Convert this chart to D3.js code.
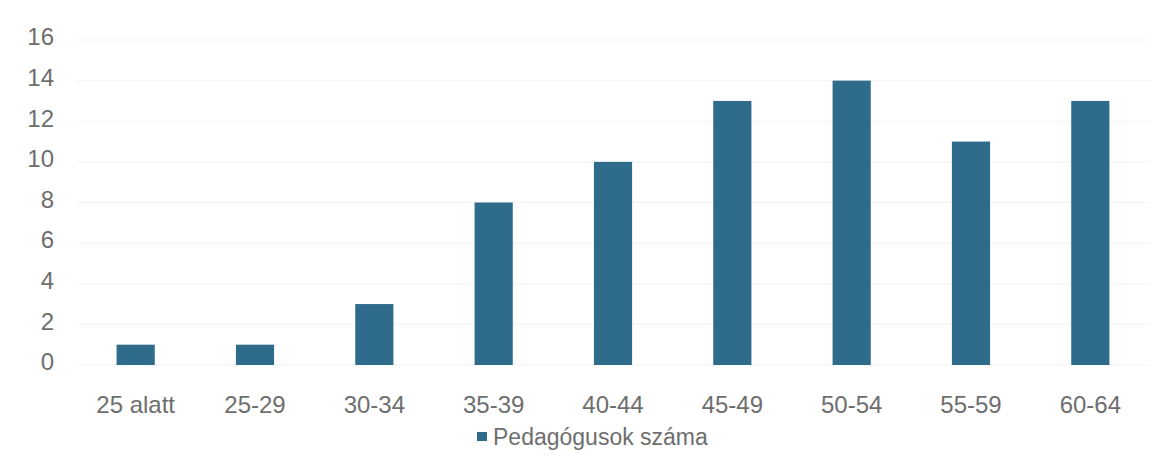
<!DOCTYPE html>
<html>
<head>
<meta charset="utf-8">
<script src="https://cdn.jsdelivr.net/npm/d3@7"></script>
<style>
  body { margin: 0; background: #fff; }
  text { font-family: "Liberation Sans", Arial, sans-serif; }
</style>
</head>
<body>
<div id="viz"></div>
<script>
const width = 1171;
const height = 468;
const margin = {top: 40, right: 21, bottom: 103, left: 76};
const barColor = '#2f6c8c';
const textColor = '#6e6e6e';

// Data
const categories = ['25 alatt', '25-29', '30-34', '35-39', '40-44', '45-49', '50-54', '55-59', '60-64'];
const values = [1, 1, 3, 8, 10, 13, 14, 11, 13];
const yTicks = [0, 2, 4, 6, 8, 10, 12, 14, 16];
const seriesName = 'Pedagógusok száma';

const svg = d3.select('#viz')
  .append('svg')
    .attr('width', width)
    .attr('height', height);

const xScale = d3.scaleBand()
  .domain(categories)
  .range([margin.left, width - margin.right])
  .paddingInner(0.68)
  .paddingOuter(0.34);

const yScale = d3.scaleLinear()
  .domain([0, 16])
  .range([height - margin.bottom, margin.top]);

// Gridlines
svg.append('g')
  .selectAll('line')
  .data(yTicks)
  .join('line')
    .attr('x1', margin.left)
    .attr('x2', width - margin.right)
    .attr('y1', d => yScale(d))
    .attr('y2', d => yScale(d))
    .attr('stroke', '#f3f3f3')
    .attr('stroke-width', 1);

// Y axis
const yAxis = d3.axisLeft(yScale)
  .tickValues(yTicks)
  .tickSize(0)
  .tickPadding(0);
svg.append('g')
  .attr('transform', `translate(54, 0)`)
  .call(yAxis)
  .call(g => g.select('.domain').remove())
  .call(g => g.selectAll('text')
    .attr('fill', textColor)
    .attr('dy', '0.2em')
    .style('font-size', '24px'));

// X axis
const xAxis = d3.axisBottom(xScale)
  .tickSize(0)
  .tickPadding(0);
svg.append('g')
  .attr('transform', `translate(0, ${height - margin.bottom + 31})`)
  .call(xAxis)
  .call(g => g.select('.domain').remove())
  .call(g => g.selectAll('text')
    .attr('fill', textColor)
    .style('font-size', '24px'));

// Legend
const legend = svg.append('g')
  .attr('transform', `translate(477, 432)`);
legend.append('rect')
  .attr('width', 10)
  .attr('height', 9)
  .attr('fill', barColor);
legend.append('text')
  .attr('x', 16)
  .attr('y', 13)
  .attr('fill', textColor)
  .style('font-size', '23px')
  .text(seriesName);

// Bars
svg.append('g')
  .attr('fill', barColor)
  .selectAll('rect')
  .data(values)
  .join('rect')
    .attr('x', (d, i) => xScale(categories[i]))
    .attr('y', d => yScale(d))
    .attr('width', xScale.bandwidth())
    .attr('height', d => yScale(0) - yScale(d));
</script>
</body>
</html>
